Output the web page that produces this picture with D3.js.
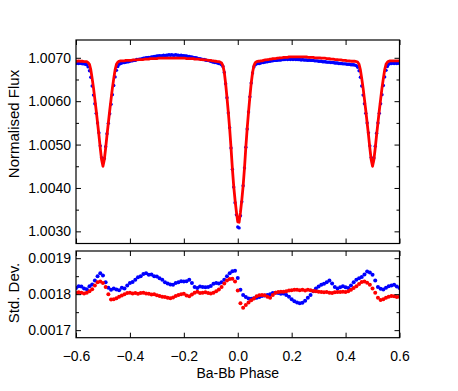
<!DOCTYPE html>
<html><head><meta charset="utf-8">
<script src="https://cdn.jsdelivr.net/npm/d3@7"></script>
<style>body{margin:0;background:#fff}svg{display:block}</style>
</head><body><svg id="c" width="458" height="391"></svg>
<script>
// Phase grid of the light curve: -0.6 .. 0.6, step 0.005 (rows of 10 = 0.05 phase)
const fluxPhaseStart = -0.6, fluxPhaseStep = 0.005;
const fluxObs = [
 1.00687,1.00688,1.00687,1.00688,1.00687,1.00686,1.00686,1.00685,1.00684,1.00679,
 1.00670,1.00655,1.00635,1.00614,1.00594,1.00572,1.00550,1.00527,1.00497,1.00470,
 1.00460,1.00468,1.00495,1.00525,1.00549,1.00571,1.00593,1.00615,1.00636,1.00656,
 1.00671,1.00680,1.00685,1.00687,1.00688,1.00689,1.00689,1.00690,1.00691,1.00691,
 1.00692,1.00693,1.00693,1.00694,1.00694,1.00696,1.00696,1.00697,1.00697,1.00698,
 1.00699,1.00699,1.00700,1.00700,1.00701,1.00701,1.00702,1.00702,1.00703,1.00703,
 1.00704,1.00704,1.00705,1.00704,1.00705,1.00706,1.00705,1.00706,1.00706,1.00707,
 1.00706,1.00707,1.00706,1.00706,1.00707,1.00706,1.00706,1.00705,1.00706,1.00705,
 1.00705,1.00704,1.00704,1.00703,1.00703,1.00702,1.00702,1.00701,1.00700,1.00700,
 1.00699,1.00698,1.00698,1.00697,1.00696,1.00696,1.00695,1.00694,1.00694,1.00693,
 1.00692,1.00691,1.00690,1.00689,1.00689,1.00688,1.00687,1.00686,1.00684,1.00680,
 1.00666,1.00640,1.00608,1.00573,1.00539,1.00492,1.00443,1.00402,1.00366,1.00338,
 1.00310,1.00308,1.00336,1.00368,1.00405,1.00446,1.00494,1.00536,1.00575,1.00610,
 1.00642,1.00665,1.00679,1.00684,1.00686,1.00687,1.00687,1.00688,1.00689,1.00689,
 1.00690,1.00691,1.00691,1.00692,1.00692,1.00693,1.00693,1.00694,1.00694,1.00694,
 1.00695,1.00695,1.00695,1.00696,1.00696,1.00696,1.00697,1.00696,1.00697,1.00696,
 1.00697,1.00696,1.00697,1.00696,1.00696,1.00696,1.00696,1.00695,1.00696,1.00695,
 1.00695,1.00695,1.00694,1.00695,1.00694,1.00694,1.00694,1.00693,1.00693,1.00693,
 1.00692,1.00692,1.00692,1.00691,1.00691,1.00691,1.00690,1.00690,1.00690,1.00689,
 1.00689,1.00689,1.00688,1.00688,1.00688,1.00687,1.00687,1.00687,1.00686,1.00686,
 1.00686,1.00685,1.00685,1.00685,1.00684,1.00684,1.00684,1.00683,1.00682,1.00678,
 1.00670,1.00655,1.00635,1.00614,1.00594,1.00572,1.00550,1.00527,1.00497,1.00470,
 1.00460,1.00469,1.00496,1.00526,1.00550,1.00572,1.00594,1.00615,1.00636,1.00656,
 1.00671,1.00680,1.00685,1.00687,1.00687,1.00688,1.00687,1.00688,1.00687,1.00688,
 1.00687
];
const fluxModel = [
 1.00692,1.00692,1.00693,1.00692,1.00692,1.00692,1.00691,1.00691,1.00691,1.00689,
 1.00685,1.00672,1.00652,1.00630,1.00604,1.00578,1.00550,1.00522,1.00492,1.00465,
 1.00450,1.00465,1.00492,1.00522,1.00550,1.00578,1.00604,1.00630,1.00652,1.00672,
 1.00685,1.00690,1.00692,1.00693,1.00693,1.00693,1.00693,1.00694,1.00694,1.00694,
 1.00694,1.00694,1.00695,1.00695,1.00695,1.00695,1.00696,1.00696,1.00696,1.00696,
 1.00696,1.00697,1.00697,1.00697,1.00697,1.00698,1.00698,1.00698,1.00698,1.00698,
 1.00698,1.00699,1.00699,1.00699,1.00699,1.00699,1.00699,1.00699,1.00699,1.00699,
 1.00699,1.00699,1.00699,1.00699,1.00699,1.00699,1.00699,1.00699,1.00699,1.00699,
 1.00699,1.00699,1.00698,1.00698,1.00698,1.00698,1.00698,1.00698,1.00697,1.00697,
 1.00697,1.00697,1.00696,1.00696,1.00696,1.00695,1.00695,1.00695,1.00694,1.00694,
 1.00694,1.00693,1.00693,1.00692,1.00692,1.00691,1.00691,1.00690,1.00688,1.00682,
 1.00667,1.00641,1.00609,1.00574,1.00537,1.00493,1.00445,1.00404,1.00372,1.00345,
 1.00322,1.00321,1.00344,1.00372,1.00405,1.00446,1.00494,1.00537,1.00575,1.00610,
 1.00642,1.00666,1.00682,1.00689,1.00691,1.00692,1.00692,1.00693,1.00693,1.00694,
 1.00695,1.00695,1.00696,1.00696,1.00697,1.00697,1.00698,1.00698,1.00698,1.00699,
 1.00699,1.00700,1.00700,1.00700,1.00701,1.00701,1.00701,1.00701,1.00702,1.00702,
 1.00702,1.00702,1.00702,1.00702,1.00702,1.00702,1.00702,1.00702,1.00702,1.00702,
 1.00702,1.00702,1.00701,1.00701,1.00701,1.00701,1.00701,1.00700,1.00700,1.00700,
 1.00700,1.00700,1.00699,1.00699,1.00699,1.00699,1.00698,1.00698,1.00698,1.00697,
 1.00697,1.00697,1.00696,1.00696,1.00696,1.00695,1.00695,1.00695,1.00694,1.00694,
 1.00694,1.00693,1.00693,1.00693,1.00692,1.00692,1.00692,1.00692,1.00691,1.00690,
 1.00685,1.00672,1.00652,1.00630,1.00604,1.00578,1.00550,1.00522,1.00492,1.00465,
 1.00450,1.00465,1.00492,1.00522,1.00550,1.00578,1.00604,1.00630,1.00652,1.00672,
 1.00685,1.00690,1.00692,1.00693,1.00693,1.00693,1.00693,1.00693,1.00693,1.00693,
 1.00693
];
// Std. dev. panel: phase -0.6 .. 0.6, step 0.01 (rows of 10 = 0.1 phase)
const sdPhaseStart = -0.6, sdPhaseStep = 0.01;
const sdObs = [
 0.001817,0.001822,0.001821,0.001816,0.001814,0.001822,0.001827,0.001838,0.001850,0.001858,
 0.001852,0.001833,0.001818,0.001812,0.001816,0.001813,0.001811,0.001818,0.001816,0.001824,
 0.001831,0.001834,0.001840,0.001847,0.001850,0.001856,0.001858,0.001854,0.001855,0.001850,
 0.001849,0.001844,0.001840,0.001833,0.001830,0.001827,0.001826,0.001831,0.001833,0.001836,
 0.001835,0.001836,0.001840,0.001831,0.001820,0.001817,0.001821,0.001820,0.001819,0.001820,
 0.001823,0.001829,0.001831,0.001830,0.001833,0.001840,0.001850,0.001858,0.001864,0.001865,
 0.001845,0.001812,0.001798,0.001792,0.001788,0.001787,0.001789,0.001790,0.001792,0.001795,
 0.001796,0.001798,0.001800,0.001803,0.001804,0.001803,0.001801,0.001802,0.001798,0.001793,
 0.001786,0.001780,0.001777,0.001775,0.001776,0.001782,0.001790,0.001798,0.001808,0.001816,
 0.001821,0.001826,0.001829,0.001833,0.001838,0.001830,0.001820,0.001816,0.001819,0.001822,
 0.001819,0.001817,0.001824,0.001833,0.001840,0.001844,0.001848,0.001855,0.001863,0.001860,
 0.001854,0.001838,0.001820,0.001815,0.001813,0.001818,0.001822,0.001824,0.001826,0.001821,
 0.001817
];
const sdModel = [
 0.001803,0.001805,0.001804,0.001802,0.001804,0.001808,0.001814,0.001824,0.001833,0.001835,
 0.001831,0.001820,0.001800,0.001785,0.001786,0.001789,0.001793,0.001796,0.001800,0.001803,
 0.001804,0.001802,0.001803,0.001801,0.001803,0.001804,0.001802,0.001801,0.001799,0.001800,
 0.001797,0.001795,0.001793,0.001792,0.001790,0.001789,0.001791,0.001795,0.001798,0.001800,
 0.001801,0.001796,0.001794,0.001799,0.001804,0.001807,0.001803,0.001804,0.001805,0.001803,
 0.001802,0.001804,0.001808,0.001813,0.001820,0.001830,0.001838,0.001842,0.001843,0.001835,
 0.001810,0.001775,0.001762,0.001770,0.001777,0.001783,0.001788,0.001794,0.001797,0.001798,
 0.001797,0.001793,0.001790,0.001798,0.001804,0.001806,0.001807,0.001807,0.001808,0.001810,
 0.001811,0.001812,0.001812,0.001811,0.001812,0.001810,0.001812,0.001811,0.001809,0.001808,
 0.001807,0.001806,0.001805,0.001806,0.001804,0.001803,0.001805,0.001806,0.001806,0.001807,
 0.001806,0.001808,0.001812,0.001817,0.001822,0.001828,0.001834,0.001835,0.001832,0.001826,
 0.001816,0.001804,0.001790,0.001784,0.001786,0.001790,0.001793,0.001795,0.001794,0.001792,
 0.001793
];
const xTicks = [-0.6,-0.4,-0.2,0.0,0.2,0.4,0.6];
const fluxTicks = [1.0030,1.0040,1.0050,1.0060,1.0070];
const fluxMinorTicks = [1.0035,1.0045,1.0055,1.0065];
const sdTicks = [0.0017,0.0018,0.0019];
const sdMinorTicks = [0.00175,0.00185];
const xLabel = "Ba-Bb Phase", fluxLabel = "Normalised Flux", sdLabel = "Std. Dev.";

const FONT = '"Liberation Sans", Arial, Helvetica, sans-serif';
const svg = d3.select("#c");
const L = 76, R = 399.5;
const top1 = 40, bot1 = 243.5, top2 = 251, bot2 = 337.7;

const x = d3.scaleLinear([-0.6, 0.6], [L, R]);
const yF = d3.scaleLinear([1.00272, 1.00741], [bot1, top1]);
const yS = d3.scaleLinear([0.001679, 0.001920], [bot2, top2]);

const fluxRows = fluxObs.map((v, i) => ({p: fluxPhaseStart + i * fluxPhaseStep, obs: v, mod: fluxModel[i]}));
const sdRows = sdObs.map((v, i) => ({p: sdPhaseStart + i * sdPhaseStep, obs: v, mod: sdModel[i]}));

const defs = svg.append("defs");
defs.append("clipPath").attr("id", "clip1").append("rect").attr("x", L).attr("y", top1).attr("width", R - L).attr("height", bot1 - top1);
defs.append("clipPath").attr("id", "clip2").append("rect").attr("x", L).attr("y", top2).attr("width", R - L).attr("height", bot2 - top2);

// ---- top panel data
const g1 = svg.append("g").attr("clip-path", "url(#clip1)");
g1.selectAll("circle").data(fluxRows).join("circle")
  .attr("cx", d => x(d.p)).attr("cy", d => yF(d.obs)).attr("r", 1.7).attr("fill", "#0000ff");
g1.append("path").datum(fluxRows)
  .attr("d", d3.line().x(d => x(d.p)).y(d => yF(d.mod)))
  .attr("fill", "none").attr("stroke", "#ff0000").attr("stroke-width", 2.8).attr("stroke-linejoin", "round");

// ---- bottom panel data
const g2 = svg.append("g").attr("clip-path", "url(#clip2)");
g2.selectAll("circle.b").data(sdRows).join("circle").attr("class", "b")
  .attr("cx", d => x(d.p)).attr("cy", d => yS(d.obs)).attr("r", 2).attr("fill", "#0000ff");
g2.selectAll("circle.r").data(sdRows).join("circle").attr("class", "r")
  .attr("cx", d => x(d.p)).attr("cy", d => yS(d.mod)).attr("r", 2).attr("fill", "#ff0000");

// ---- axes helpers
function styleAxis(g) {
  g.attr("font-family", FONT).attr("font-size", 14);
  g.select(".domain").remove();
  g.selectAll("line").attr("stroke", "#000");
  g.selectAll("text").attr("fill", "#000");
}
function panelAxes(yScale, yt, ymt, yTop, yBot, withXLabels) {
  const fmt = d3.format(".4f");
  svg.append("g").attr("transform", `translate(${L},0)`)
    .call(d3.axisLeft(yScale).tickValues(yt).tickSize(-5).tickPadding(5).tickFormat(fmt)).call(styleAxis);
  svg.append("g").attr("transform", `translate(${L},0)`)
    .call(d3.axisLeft(yScale).tickValues(ymt).tickSize(-3).tickFormat("")).call(styleAxis);
  svg.append("g").attr("transform", `translate(${R},0)`)
    .call(d3.axisRight(yScale).tickValues(yt).tickSize(-5).tickFormat("")).call(styleAxis);
  svg.append("g").attr("transform", `translate(${R},0)`)
    .call(d3.axisRight(yScale).tickValues(ymt).tickSize(-3).tickFormat("")).call(styleAxis);
  svg.append("g").attr("transform", `translate(0,${yTop})`)
    .call(d3.axisTop(x).tickValues(xTicks).tickSize(-5).tickFormat("")).call(styleAxis);
  svg.append("g").attr("transform", `translate(0,${yBot})`)
    .call(d3.axisBottom(x).tickValues(xTicks).tickSize(-5).tickPadding(13)
      .tickFormat(withXLabels ? d3.format(".1f") : "")).call(styleAxis);
  svg.append("rect").attr("x", L).attr("y", yTop).attr("width", R - L).attr("height", yBot - yTop)
    .attr("fill", "none").attr("stroke", "#000").attr("stroke-width", 1.2);
}
panelAxes(yF, fluxTicks, fluxMinorTicks, top1, bot1, false);
panelAxes(yS, sdTicks, sdMinorTicks, top2, bot2, true);

svg.append("text").attr("x", (L + R) / 2).attr("y", 378).attr("text-anchor", "middle")
  .attr("font-family", FONT).attr("font-size", 14).text(xLabel);
svg.append("text").attr("transform", "translate(19,124) rotate(-90)").attr("text-anchor", "middle")
  .attr("font-family", FONT).attr("font-size", 15).text(fluxLabel);
svg.append("text").attr("transform", "translate(19,293) rotate(-90)").attr("text-anchor", "middle")
  .attr("font-family", FONT).attr("font-size", 15).text(sdLabel);
</script></body></html>
